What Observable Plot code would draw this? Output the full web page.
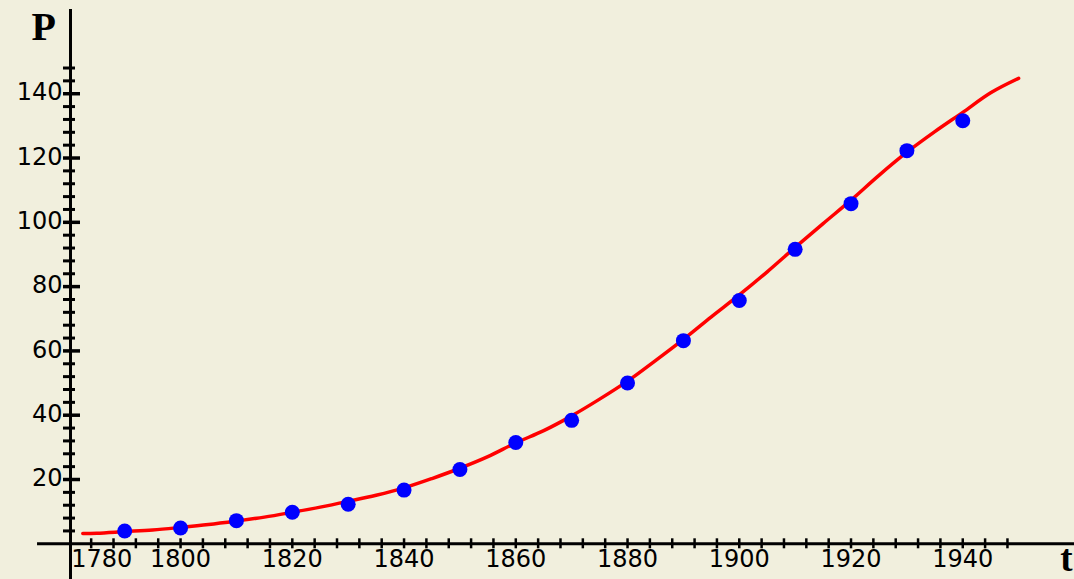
<!DOCTYPE html>
<html>
<head>
<meta charset="utf-8">
<script src="https://cdn.jsdelivr.net/npm/d3@7"></script>
<script src="https://cdn.jsdelivr.net/npm/@observablehq/plot@0.6"></script>
<style>
  html, body { margin: 0; padding: 0; background: #f1efdd; overflow: hidden; }
  #chart svg { display: block; }
</style>
</head>
<body>
<div id="chart"></div>
<script>
const censusYears = [1790, 1800, 1810, 1820, 1830, 1840, 1850, 1860, 1870, 1880, 1890, 1900, 1910, 1920, 1930, 1940];
const censusPopulation = [4.0, 4.9, 7.2, 9.8, 12.3, 16.7, 23.1, 31.5, 38.4, 50.0, 63.2, 75.7, 91.6, 105.8, 122.3, 131.6];

// Fitted (red) curve
const modelYears = [1782.5, 1785, 1790, 1795, 1800, 1805, 1810, 1815, 1820, 1825, 1830, 1835, 1840, 1845, 1850, 1855, 1860, 1865, 1870, 1875, 1880, 1885, 1890, 1895, 1900, 1905, 1910, 1915, 1920, 1925, 1930, 1935, 1940, 1945, 1950];
const modelPopulation = [3.2, 3.3, 3.8, 4.3, 5.1, 6.0, 7.1, 8.3, 9.8, 11.4, 13.2, 15.1, 17.4, 20.3, 23.5, 27.1, 31.4, 35.2, 39.8, 45.0, 50.6, 57.0, 63.6, 70.6, 77.4, 84.6, 92.2, 99.6, 106.9, 114.6, 121.8, 128.2, 134.2, 140.3, 144.8];

// Axes
const xTickLabels = [1780, 1800, 1820, 1840, 1860, 1880, 1900, 1920, 1940];
const yTickLabels = [20, 40, 60, 80, 100, 120, 140];
const xMinorTicks = d3.range(1784, 1949, 4);
const yMinorTicks = d3.range(4, 149, 4).filter(v => v % 20 !== 0);
const axisOriginT = 1780.3;
const xAxisExtent = [1774.4, 1960];
const yAxisExtent = [-11.1, 166.2];

const census = censusYears.map((t, i) => ({t, p: censusPopulation[i]}));
const model = modelYears.map((t, i) => ({t, p: modelPopulation[i]}));

const labelFont = "DejaVu Sans";
const plain = d => String(d);

const chart = Plot.plot({
  width: 1074,
  height: 579,
  marginLeft: 70,
  marginRight: 0,
  marginTop: 0,
  marginBottom: 35.7,
  style: {background: "#f1efdd", color: "black", fontFamily: labelFont, fontSize: "24px", overflow: "visible"},
  x: {type: "linear", domain: [axisOriginT, 1960]},
  y: {type: "linear", domain: [0, 169]},
  marks: [
    // axis lines
    Plot.ruleY([0], {x1: xAxisExtent[0], x2: xAxisExtent[1], stroke: "black", strokeWidth: 3}),
    Plot.ruleX([axisOriginT], {y1: yAxisExtent[0], y2: yAxisExtent[1], stroke: "black", strokeWidth: 3}),
    // x ticks (cross the axis)
    Plot.ruleX(xMinorTicks, {x: d => d, y1: 0, y2: 0, insetTop: -5, insetBottom: -5, stroke: "black", strokeWidth: 2.5}),
    // y ticks
    Plot.ruleY(yMinorTicks, {y: d => d, x1: axisOriginT, x2: axisOriginT, insetLeft: -7, insetRight: -5, stroke: "black", strokeWidth: 3}),
    Plot.ruleY(yTickLabels, {y: d => d, x1: axisOriginT, x2: axisOriginT, insetLeft: -7, insetRight: -10, stroke: "black", strokeWidth: 3.5}),
    // tick labels
    Plot.axisY(yTickLabels, {anchor: "left", tickSize: 0, tickPadding: 8, dy: -1, tickFormat: plain, fontSize: 24, fontFamily: labelFont, label: null}),
    Plot.axisX(xTickLabels.slice(1), {anchor: "bottom", tickSize: 0, tickPadding: 6.5, tickFormat: plain, fontSize: 24, fontFamily: labelFont, label: null}),
    Plot.axisX(xTickLabels.slice(0, 1), {anchor: "bottom", tickSize: 0, tickPadding: 6.5, dx: 33, tickFormat: plain, fontSize: 24, fontFamily: labelFont, label: null}),
    // data
    Plot.line(model, {x: "t", y: "p", stroke: "#ff0000", strokeWidth: 3.5, curve: "catmull-rom"}),
    Plot.dot(census, {x: "t", y: "p", r: 7.5, fill: "#0000ff", stroke: "none"}),
    // axis names
    Plot.text(["P"], {frameAnchor: "top-left", text: d => d, textAnchor: "start", lineAnchor: "bottom", dx: -39, dy: 39.5, fontFamily: "Liberation Serif", fontWeight: "bold", fontSize: 40, fill: "black"}),
    Plot.text(["t"], {frameAnchor: "bottom-right", text: d => d, textAnchor: "end", lineAnchor: "bottom", dx: -2, dy: 27.5, fontFamily: "Liberation Serif", fontWeight: "bold", fontSize: 37, fill: "black"})
  ]
});
document.getElementById("chart").appendChild(chart);
</script>
</body>
</html>
